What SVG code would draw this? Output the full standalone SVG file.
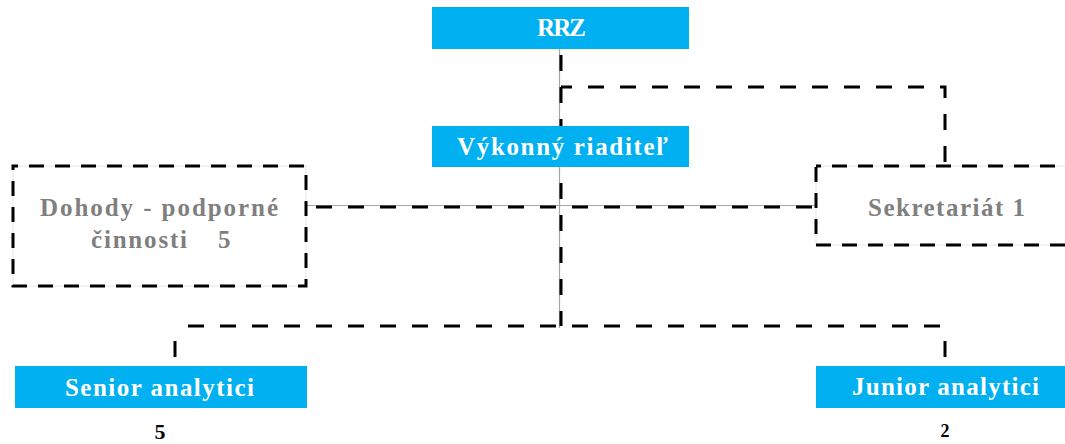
<svg xmlns="http://www.w3.org/2000/svg" width="1065" height="444" viewBox="0 0 1065 444">
  <style>
    .blue { fill: #00B0F0; }
    .wt { font-family: "Liberation Serif", "DejaVu Serif", serif; font-weight: bold; font-size: 25px; fill: #FFFFFF; text-anchor: middle; }
    .gt { font-family: "Liberation Serif", "DejaVu Serif", serif; font-weight: bold; font-size: 25px; fill: #7F7F7F; }
    .num { font-family: "Liberation Serif", "DejaVu Serif", serif; font-weight: bold; fill: #000000; text-anchor: middle; }
    .thin { fill: none; stroke: #A6A6A6; stroke-width: 1.2; }
    .dash { fill: none; stroke: #000000; stroke-width: 3; stroke-dasharray: 16 16; }
    .solid { fill: none; stroke: #000000; stroke-width: 3; }
    .boxdash { fill: none; stroke: #000000; stroke-width: 3; stroke-dasharray: 15 11; }
    .boxfaint { fill: #FFFFFF; stroke: #E6E6E6; stroke-width: 1; }
  </style>
  <rect width="1065" height="444" fill="#FFFFFF"/>

  <g id="connectors">
    <path class="thin" d="M559.5,49 V126"/>
    <path class="thin" d="M559.5,167 V328"/>
    <path class="thin" d="M306,205.5 H818"/>
    <path class="dash" d="M561,49 V126" stroke-dasharray="15 17" stroke-dashoffset="26"/>
    <path class="dash" d="M561,87 H945 V166" stroke-dashoffset="5"/>
    <path class="dash" d="M306,207 H818" stroke-dashoffset="22"/>
    <path class="dash" d="M561,167 V326" stroke-dashoffset="16"/>
    <path class="dash" d="M188,326 H945"/>
    <path class="solid" d="M175,341 V357"/>
    <path class="solid" d="M945,341 V357"/>
  </g>

  <g id="rrz">
    <rect class="blue" x="432" y="7" width="257" height="42"/>
    <text class="wt" x="561.5" y="36" textLength="49">RRZ</text>
  </g>

  <g id="vykonny-riaditel">
    <rect class="blue" x="432" y="126" width="257" height="41"/>
    <text class="wt" x="562.5" y="155" textLength="211">Výkonný riaditeľ</text>
  </g>

  <g id="dohody">
    <rect class="boxfaint" x="13" y="166" width="293" height="120"/>
    <rect class="boxdash" x="13" y="166" width="293" height="120" stroke-dashoffset="-16"/>
    <text class="gt" x="159" y="216" text-anchor="middle" textLength="238">Dohody - podporné</text>
    <text class="gt" y="248"><tspan x="91" textLength="96">činnosti</tspan><tspan x="218">5</tspan></text>
  </g>

  <g id="sekretariat">
    <rect class="boxfaint" x="816" y="166" width="262" height="79"/>
    <rect class="boxdash" x="816" y="166" width="262" height="79" stroke-dashoffset="-16"/>
    <text class="gt" x="946.5" y="216" text-anchor="middle" textLength="157">Sekretariát 1</text>
  </g>

  <g id="senior-analytici">
    <rect class="blue" x="15" y="366" width="292" height="42"/>
    <text class="wt" x="159.5" y="396" textLength="189">Senior analytici</text>
    <text class="num" x="160" y="439" font-size="22">5</text>
  </g>

  <g id="junior-analytici">
    <rect class="blue" x="816" y="366" width="260" height="42"/>
    <text class="wt" x="945.5" y="395" textLength="187">Junior analytici</text>
    <text class="num" x="945" y="437" font-size="18">2</text>
  </g>
</svg>
